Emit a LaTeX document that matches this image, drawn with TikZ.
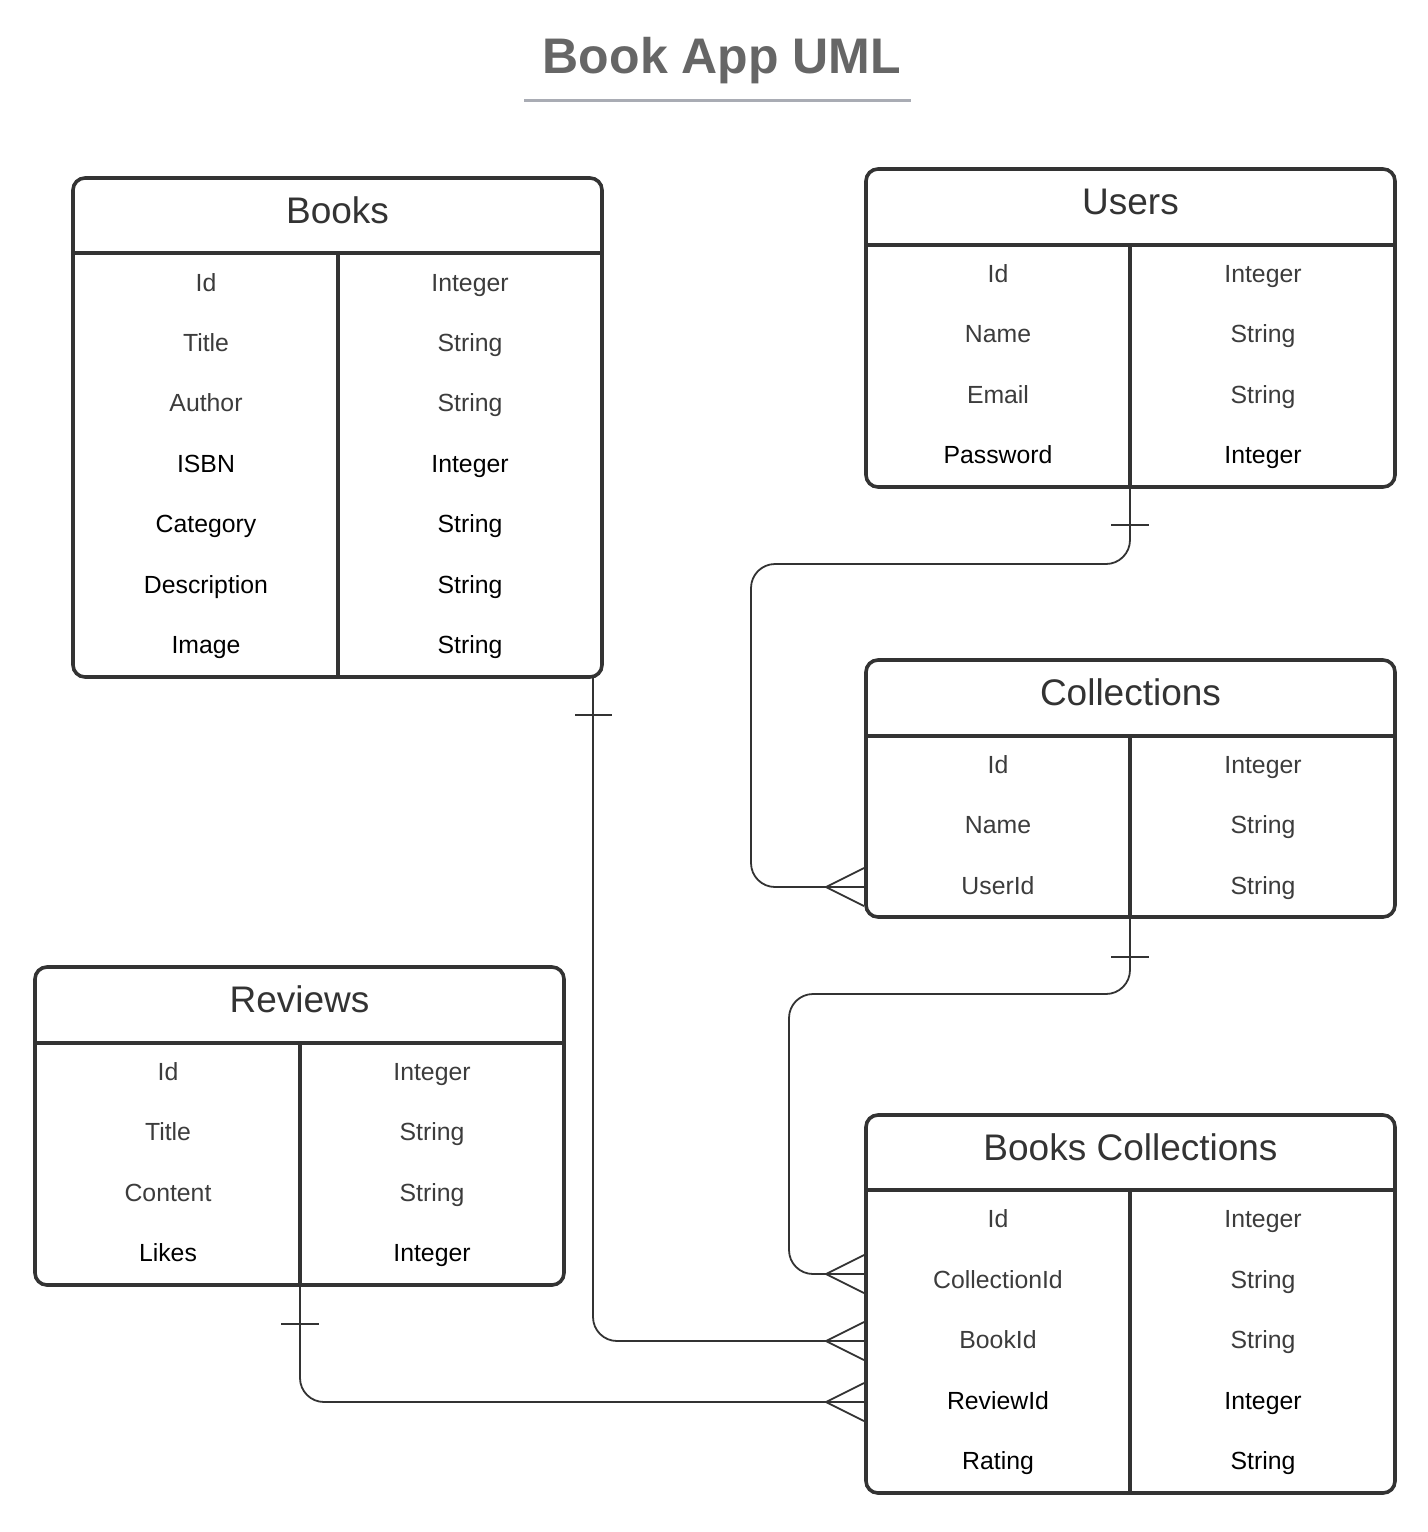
\documentclass[tikz,border=0pt]{standalone}
\usepackage{fontspec}
\setmainfont{Liberation Sans}
\usetikzlibrary{calc}
\definecolor{ink}{HTML}{333333}
\definecolor{fgrey}{HTML}{3C3C3C}
\definecolor{ttl}{HTML}{666666}
\definecolor{uline}{HTML}{A9ACB4}
\tikzset{
  tbl/.style={draw=ink, line width=1.8pt, rounded corners=6pt, fill=white, inner sep=0pt, outer sep=0pt, anchor=north west},
  sep/.style={draw=ink, line width=1.8pt},
  hdr/.style={font=\fontsize{18.5}{20}\selectfont, text=ink, inner sep=0pt, anchor=base},
  fld/.style={font=\fontsize{12.4}{14}\selectfont, text=fgrey, inner sep=0pt, anchor=base},
  fldb/.style={font=\fontsize{12.4}{14}\selectfont, text=black, inner sep=0pt, anchor=base},
  conn/.style={draw=ink, line width=0.9pt, rounded corners=12pt},
  tick/.style={draw=ink, line width=0.9pt},
}
\newcommand{\mktable}[8]{%
  \node[tbl, minimum width={(#4-#2)*0.5pt}, minimum height={(#5-#3)*0.5pt}] (#1) at (#2,#3) {};
  \draw[sep] (#2,#6) -- (#4,#6);
  \draw[sep] (#7,#6) -- (#7,#5);
  \node[hdr] (#1-title) at ({(#2+#4)/2},{(#3+#6)/2+7.5}) {#8};
}
\newcommand{\crow}[3]{% x-end, y, name
  \draw[tick] (#1-2,#2) -- (#1-40,#2) coordinate (#3-apex);
  \draw[tick] (#3-apex) -- (#1-2,#2-19);
  \draw[tick] (#3-apex) -- (#1-2,#2+19);
}
\begin{document}
\begin{tikzpicture}[x=0.5pt,y=-0.5pt]
\useasboundingbox (0,0) rectangle (1428,1532);
% title
\node[font=\fontsize{25}{28}\selectfont\bfseries, text=ttl, inner sep=0pt, anchor=base] (title) at (722,73) {Book App UML};
\draw[uline, line width=1.5pt] (524,100) -- (911,100);

% Books
\mktable{books}{73}{178}{602}{677}{253}{338}{Books}
\foreach \n/\t/\y/\s in {Id/Integer/282/fld, Title/String/342/fld, Author/String/402/fld, ISBN/Integer/463/fldb, Category/String/523/fldb, Description/String/584/fldb, Image/String/644/fldb}{
  \node[\s] (books-\n) at (206,\y+9) {\n};
  \node[\s] (books-\n-t) at (470,\y+9) {\t};
}
% Users
\mktable{users}{866}{169}{1395}{487}{245}{1130}{Users}
\foreach \n/\t/\y/\s in {Id/Integer/273/fld, Name/String/333/fld, Email/String/394/fld, Password/Integer/454/fldb}{
  \node[\s] (users-\n) at (998,\y+9) {\n};
  \node[\s] (users-\n-t) at (1263,\y+9) {\t};
}
% Collections
\mktable{coll}{866}{660}{1395}{917}{736}{1130}{Collections}
\foreach \n/\t/\y/\s in {Id/Integer/764/fld, Name/String/824/fld, UserId/String/885/fld}{
  \node[\s] (coll-\n) at (998,\y+9) {\n};
  \node[\s] (coll-\n-t) at (1263,\y+9) {\t};
}
% Reviews
\mktable{rev}{35}{967}{564}{1285}{1043}{300}{Reviews}
\foreach \n/\t/\y/\s in {Id/Integer/1071/fld, Title/String/1131/fld, Content/String/1192/fld, Likes/Integer/1252/fldb}{
  \node[\s] (rev-\n) at (168,\y+9) {\n};
  \node[\s] (rev-\n-t) at (432,\y+9) {\t};
}
% Books Collections
\mktable{bc}{866}{1115}{1395}{1493}{1190}{1130}{Books Collections}
\foreach \n/\t/\y/\s in {Id/Integer/1218/fld, CollectionId/String/1279/fld, BookId/String/1339/fld, ReviewId/Integer/1400/fldb, Rating/String/1460/fldb}{
  \node[\s] (bc-\n) at (998,\y+9) {\n};
  \node[\s] (bc-\n-t) at (1263,\y+9) {\t};
}

% connectors
\coordinate (u0) at (1130,487);
\coordinate (c1) at (866,887);
\draw[conn] (u0) -- (1130,564) -- (751,564) -- (751,887) -- (c1);
\draw[tick] (1111,525) -- (1149,525);
\crow{866}{887}{cf1}

\coordinate (c0) at (1130,917);
\coordinate (b1) at (866,1274);
\draw[conn] (c0) -- (1130,994) -- (789,994) -- (789,1274) -- (b1);
\draw[tick] (1111,957) -- (1149,957);
\crow{866}{1274}{cf2}

\coordinate (k0) at (593,677);
\coordinate (b2) at (866,1341);
\draw[conn] (k0) -- (593,1341) -- (b2);
\draw[tick] (575,715) -- (612,715);
\crow{866}{1341}{cf3}

\coordinate (r0) at (300,1285);
\coordinate (b3) at (866,1402);
\draw[conn] (r0) -- (300,1402) -- (b3);
\draw[tick] (281,1324) -- (319,1324);
\crow{866}{1402}{cf4}
\end{tikzpicture}
\end{document}
